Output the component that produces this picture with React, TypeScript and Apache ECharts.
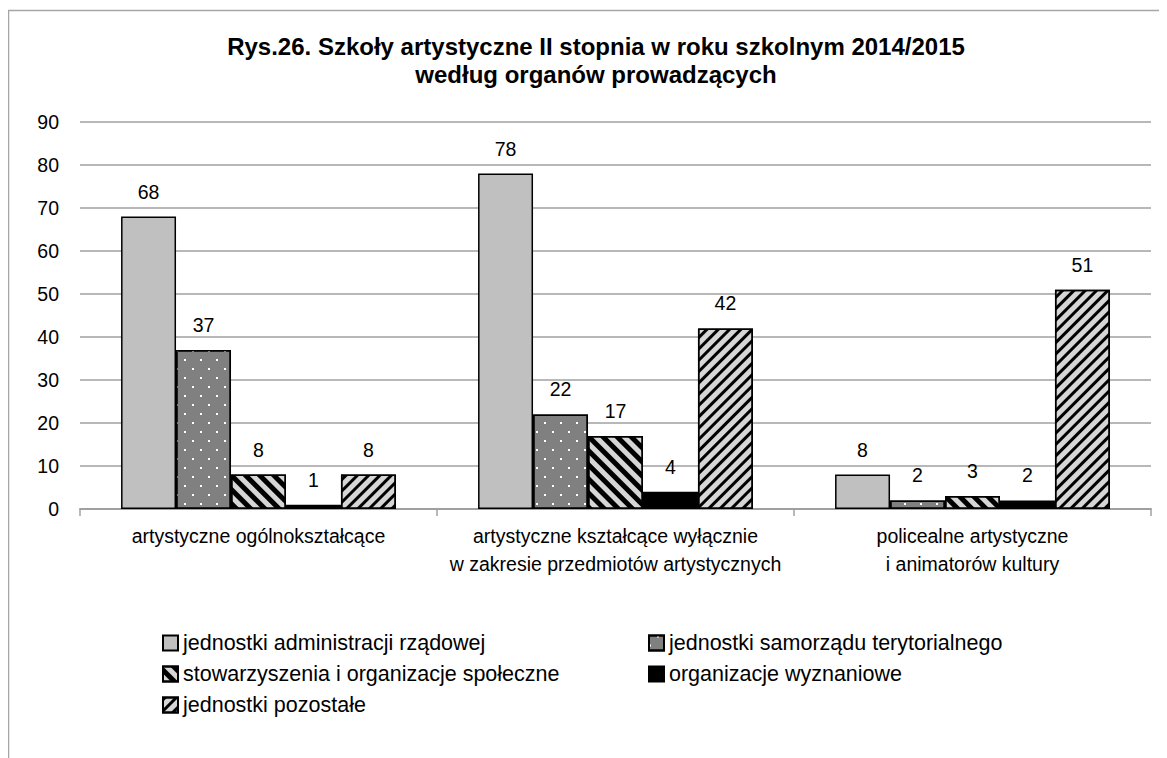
import React, { useEffect, useRef } from "react";
import * as echarts from "echarts";

const titleLines = [
  "Rys.26. Szkoły artystyczne II stopnia w roku szkolnym 2014/2015",
  "według organów prowadzących",
];
const categories = [
  "artystyczne ogólnokształcące",
  "artystyczne kształcące wyłącznie\nw zakresie przedmiotów artystycznych",
  "policealne artystyczne\ni animatorów kultury",
];
const seriesNames = [
  "jednostki administracji rządowej",
  "jednostki samorządu terytorialnego",
  "stowarzyszenia i organizacje społeczne",
  "organizacje wyznaniowe",
  "jednostki pozostałe",
];
const administracja = [68, 78, 8];
const samorzad = [37, 22, 2];
const stowarzyszenia = [8, 17, 3];
const wyznaniowe = [1, 4, 2];
const pozostale = [8, 42, 51];
const yTicks = { min: 0, max: 90, interval: 10 };

const FONT = "'Liberation Sans', Arial, sans-serif";

export default function App() {
  const ref = useRef<HTMLDivElement>(null);
  useEffect(() => {
    if (!ref.current) return;
    const chart = echarts.init(ref.current, undefined, { renderer: "svg" });
    const styles: any[] = [
      { color: "#c0c0c0" },
      {
        color: "#808080",
        decal: {
          symbol: "rect",
          symbolSize: 1,
          color: "#ffffff",
          dashArrayX: [[2, 14], [0, 8, 2, 6]],
          dashArrayY: [2, 7],
        },
      },
      {
        color: "#d6d6d6",
        decal: {
          symbol: "rect",
          symbolSize: 1,
          color: "#000000",
          dashArrayX: [1, 0],
          dashArrayY: [4.5, 4.5],
          rotation: Math.PI / 4,
        },
      },
      { color: "#000000" },
      {
        color: "#d6d6d6",
        decal: {
          symbol: "rect",
          symbolSize: 1,
          color: "#000000",
          dashArrayX: [1, 0],
          dashArrayY: [3, 4.5],
          rotation: -Math.PI / 4,
        },
      },
    ];
    const data = [administracja, samorzad, stowarzyszenia, wyznaniowe, pozostale];
    const legendText = { fontFamily: FONT, fontSize: 21.5, color: "#000" };
    chart.setOption({
      animation: false,
      aria: { enabled: false },
      textStyle: { fontFamily: FONT },
      graphic: [
        {
          type: "rect",
          shape: { x: 0.5, y: 2.5, width: 3000, height: 3000 },
          style: { fill: "none", stroke: "#a6a6a6", lineWidth: 1.5 },
          silent: true,
        },
        ...titleLines.map((t, i) => ({
          type: "text",
          x: 588,
          y: 38 + i * 28,
          style: {
            text: t,
            textAlign: "center",
            textVerticalAlign: "middle",
            fontFamily: FONT,
            fontSize: 24,
            fontWeight: "bold",
            fill: "#000",
          },
        })),
      ],
      legend: [
        {
          orient: "vertical",
          left: 149,
          top: 619,
          itemWidth: 15,
          itemHeight: 15,
          itemGap: 9,
          icon: "rect",
          data: [seriesNames[0], seriesNames[2], seriesNames[4]],
          textStyle: legendText,
        },
        {
          orient: "vertical",
          left: 635,
          top: 619,
          itemWidth: 15,
          itemHeight: 15,
          itemGap: 9,
          icon: "rect",
          data: [seriesNames[1], seriesNames[3]],
          textStyle: legendText,
        },
      ],
      grid: { left: 72, right: 16, top: 114, bottom: 249, containLabel: false },
      xAxis: {
        type: "category",
        data: categories,
        axisLine: { lineStyle: { color: "#a0a0a0", width: 2 } },
        axisTick: { show: true, alignWithLabel: false, length: 7, lineStyle: { color: "#a0a0a0", width: 1.5 } },
        axisLabel: {
          interval: 0,
          fontSize: 19.5,
          lineHeight: 28,
          color: "#000",
          margin: 13,
          fontFamily: FONT,
        },
      },
      yAxis: {
        type: "value",
        min: yTicks.min,
        max: yTicks.max,
        interval: yTicks.interval,
        axisLine: { show: false },
        axisTick: { show: false },
        axisLabel: { fontSize: 19.5, color: "#000", margin: 21, fontFamily: FONT },
        splitLine: { lineStyle: { color: "#a0a0a0", width: 1.5 } },
      },
      series: seriesNames.map((name, i) => ({
        name,
        type: "bar",
        data: data[i],
        barGap: "0%",
        barCategoryGap: "23%",
        itemStyle: { ...styles[i], borderColor: "#000", borderWidth: 1.5 },
        label: {
          show: true,
          position: "top",
          distance: 15,
          fontSize: 19.5,
          color: "#000",
          fontFamily: FONT,
        },
      })),
    });
    return () => chart.dispose();
  }, []);
  return <div ref={ref} style={{ width: 1159, height: 750 }} />;
}
